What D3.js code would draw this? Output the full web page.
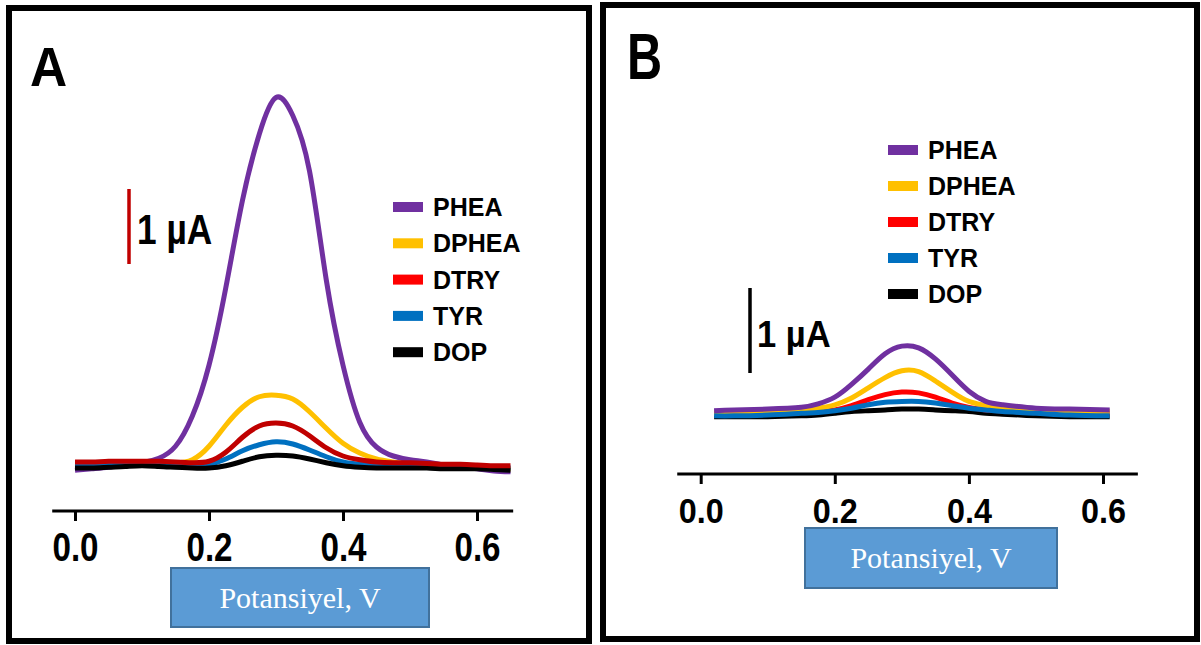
<!DOCTYPE html>
<html><head><meta charset="utf-8">
<script src="https://cdn.jsdelivr.net/npm/d3@7"></script>
<style>body{margin:0;background:#fff}svg{display:block}</style>
</head><body>
<svg id="c" width="1201" height="645"></svg>
<script>
// ---------- data ----------
const seriesNames = ["PHEA", "DPHEA", "DTRY", "TYR", "DOP"];
const tickValues = [0, 0.2, 0.4, 0.6];
const tickLabels = ["0.0", "0.2", "0.4", "0.6"];
const axisTitle = "Potansiyel, V";
const scaleBarLabel = "1 µA";

// Panel A (current in µA vs potential in V)
const potentialsA = [0,0.025,0.05,0.075,0.1,0.125,0.15,0.175,0.2,0.225,0.25,0.275,0.3,0.325,0.35,0.375,0.4,0.425,0.45,0.475,0.5,0.525,0.55,0.575,0.6,0.625,0.65];
const pheaA  = [-0.07,-0.05,-0.03,0.00,0.03,0.09,0.25,0.65,1.33,2.36,3.53,4.41,4.90,4.66,3.92,2.47,1.33,0.57,0.24,0.12,0.07,0.04,0.00,-0.03,-0.05,-0.08,-0.09];
const dpheaA = [0.01,0.01,0.03,0.03,0.03,0.03,0.03,0.07,0.25,0.53,0.77,0.91,0.93,0.88,0.71,0.49,0.29,0.16,0.08,0.04,0.01,0.00,-0.01,-0.03,-0.04,-0.05,-0.05];
const dtryA  = [0.04,0.04,0.05,0.05,0.05,0.05,0.04,0.03,0.05,0.17,0.37,0.52,0.56,0.52,0.39,0.23,0.12,0.07,0.04,0.03,0.03,0.02,0.01,0.01,0.00,-0.01,-0.01];
const tyrA   = [0.00,0.00,0.00,0.00,0.00,0.00,-0.01,-0.01,0.01,0.08,0.19,0.27,0.31,0.28,0.20,0.11,0.04,0.01,0.00,0.00,-0.01,-0.01,-0.02,-0.02,-0.03,-0.03,-0.04];
const dopA   = [-0.04,-0.04,-0.03,-0.02,-0.01,-0.02,-0.03,-0.04,-0.04,-0.01,0.05,0.11,0.13,0.12,0.08,0.03,-0.01,-0.03,-0.04,-0.04,-0.04,-0.04,-0.05,-0.05,-0.05,-0.06,-0.07];

// Panel B
const potentialsB = [0.02,0.05,0.1,0.15,0.175,0.2,0.225,0.25,0.275,0.3,0.325,0.35,0.375,0.4,0.425,0.45,0.5,0.55,0.61];
const pheaB  = [0.05,0.06,0.07,0.09,0.13,0.21,0.36,0.54,0.72,0.81,0.79,0.66,0.47,0.28,0.16,0.12,0.08,0.07,0.06];
const dpheaB = [0.02,0.02,0.04,0.06,0.08,0.12,0.20,0.32,0.44,0.52,0.51,0.40,0.27,0.16,0.11,0.07,0.05,0.04,0.04];
const dtryB  = [0.02,0.02,0.02,0.03,0.04,0.06,0.11,0.18,0.24,0.27,0.26,0.21,0.14,0.09,0.06,0.05,0.03,0.02,0.02];
const tyrB   = [-0.01,-0.01,0.00,0.02,0.03,0.05,0.08,0.12,0.15,0.16,0.16,0.14,0.11,0.08,0.06,0.04,0.02,0.00,-0.01];
const dopB   = [-0.02,-0.02,-0.02,-0.01,0.00,0.02,0.04,0.05,0.06,0.07,0.07,0.06,0.05,0.04,0.02,0.01,-0.01,-0.02,-0.02];

const legendColors = ["#7030a0", "#ffc000", "#ff0000", "#0070c0", "#000000"];
const lineColorsA = {PHEA:"#7030a0", DPHEA:"#ffc000", DTRY:"#c00000", TYR:"#0070c0", DOP:"#000000"};
const lineColorsB = {PHEA:"#7030a0", DPHEA:"#ffc000", DTRY:"#ff0000", TYR:"#0070c0", DOP:"#000000"};

// ---------- drawing ----------
const svg = d3.select("#c");

const panels = [
  {
    letter: "A", frame: [9, 8, 580, 633],
    letterPos: [30, 86], letterFont: 56, letterSx: 0.92,
    x: d3.scaleLinear().domain([0, 0.6]).range([75, 477]),
    y: d3.scaleLinear().domain([0, 1]).range([465, 390]),
    axisY: 511, axisExtent: [-0.034, 0.654],
    tickFont: 40, tickSx: 0.83, tickBaseline: 561,
    box: [171, 568, 258, 59],
    potentials: potentialsA,
    values: {PHEA: pheaA, DPHEA: dpheaA, DTRY: dtryA, TYR: tyrA, DOP: dopA},
    order: ["PHEA", "DPHEA", "TYR", "DOP", "DTRY"],
    colors: lineColorsA,
    bar: {x: 129, top: 189, color: "#c00000"},
    barText: {x: 137, y: 244, font: 43, sx: 0.82},
    legend: {x: 393, y: 207, step: 36.3}
  },
  {
    letter: "B", frame: [603, 5, 594, 634],
    letterPos: [627, 79], letterFont: 64, letterSx: 0.76,
    x: d3.scaleLinear().domain([0, 0.6]).range([700.7, 1103]),
    y: d3.scaleLinear().domain([0, 1]).range([415, 330]),
    axisY: 474, axisExtent: [-0.035, 0.652],
    tickFont: 35, tickSx: 0.925, tickBaseline: 523,
    box: [805, 528, 252, 60],
    potentials: potentialsB,
    values: {PHEA: pheaB, DPHEA: dpheaB, DTRY: dtryB, TYR: tyrB, DOP: dopB},
    order: ["DOP", "DTRY", "DPHEA", "TYR", "PHEA"],
    colors: lineColorsB,
    bar: {x: 750, top: 288, color: "#000000"},
    barText: {x: 757, y: 347, font: 36, sx: 0.96},
    legend: {x: 888, y: 150, step: 36}
  }
];

panels.forEach(p => {
  const g = svg.append("g");
  // frame
  g.append("rect")
    .attr("x", p.frame[0]).attr("y", p.frame[1])
    .attr("width", p.frame[2]).attr("height", p.frame[3])
    .attr("fill", "none").attr("stroke", "#000").attr("stroke-width", 6);

  // panel letter
  g.append("text")
    .attr("transform", `translate(${p.letterPos[0]},${p.letterPos[1]}) scale(${p.letterSx},1)`)
    .attr("font-family", "Liberation Sans, Arial, sans-serif")
    .attr("font-weight", "bold").attr("font-size", p.letterFont)
    .attr("fill", "#000").text(p.letter);

  // x axis
  const axis = d3.axisBottom(p.x).tickValues(tickValues)
    .tickFormat((d, i) => tickLabels[i]).tickSize(10).tickSizeOuter(0);
  const ax = g.append("g").attr("transform", `translate(0,${p.axisY})`).call(axis);
  ax.select(".domain").remove();
  ax.append("line")
    .attr("x1", p.x(p.axisExtent[0])).attr("x2", p.x(p.axisExtent[1]))
    .attr("y1", 0).attr("y2", 0)
    .attr("stroke", "#000").attr("stroke-width", 3);
  ax.selectAll(".tick line").attr("stroke", "#000").attr("stroke-width", 3);
  ax.selectAll(".tick text")
    .attr("y", null).attr("dy", null)
    .attr("transform", `translate(0,${p.tickBaseline - p.axisY}) scale(${p.tickSx},1)`)
    .attr("font-family", "Liberation Sans, Arial, sans-serif")
    .attr("font-weight", "bold").attr("font-size", p.tickFont)
    .attr("fill", "#000");

  // axis title box
  g.append("rect")
    .attr("x", p.box[0]).attr("y", p.box[1]).attr("width", p.box[2]).attr("height", p.box[3])
    .attr("fill", "#5b9bd5").attr("stroke", "#41719c").attr("stroke-width", 2);
  g.append("text")
    .attr("x", p.box[0] + p.box[2] / 2).attr("y", p.box[1] + p.box[3] / 2 + 10)
    .attr("text-anchor", "middle")
    .attr("font-family", "Liberation Serif, Times New Roman, serif")
    .attr("font-size", 30).attr("fill", "#fff").text(axisTitle);

  // curves
  const line = d3.line()
    .x(d => p.x(d[0])).y(d => p.y(d[1]))
    .curve(d3.curveNatural);
  p.order.forEach(name => {
    const pts = p.potentials.map((v, i) => [v, p.values[name][i]]);
    g.append("path").datum(pts)
      .attr("d", line)
      .attr("fill", "none")
      .attr("stroke", p.colors[name])
      .attr("stroke-width", 5)
      .attr("stroke-linejoin", "round")
      .attr("stroke-linecap", "butt");
  });

  // scale bar (1 µA)
  const barLen = p.y(0) - p.y(1);
  g.append("line")
    .attr("x1", p.bar.x).attr("x2", p.bar.x)
    .attr("y1", p.bar.top).attr("y2", p.bar.top + barLen)
    .attr("stroke", p.bar.color).attr("stroke-width", 3.5);
  g.append("text")
    .attr("transform", `translate(${p.barText.x},${p.barText.y}) scale(${p.barText.sx},1)`)
    .attr("font-family", "Liberation Sans, Arial, sans-serif")
    .attr("font-weight", "bold").attr("font-size", p.barText.font)
    .attr("fill", "#000").text(scaleBarLabel);

  // legend
  const lg = g.append("g");
  seriesNames.forEach((name, i) => {
    const yy = p.legend.y + i * p.legend.step;
    lg.append("rect")
      .attr("x", p.legend.x).attr("y", yy - 5).attr("width", 30).attr("height", 10)
      .attr("fill", legendColors[i]);
    lg.append("text")
      .attr("x", p.legend.x + 40).attr("y", yy + 9)
      .attr("font-family", "Liberation Sans, Arial, sans-serif")
      .attr("font-weight", "bold").attr("font-size", 25)
      .attr("fill", "#000").text(name);
  });
});
</script>
</body></html>
